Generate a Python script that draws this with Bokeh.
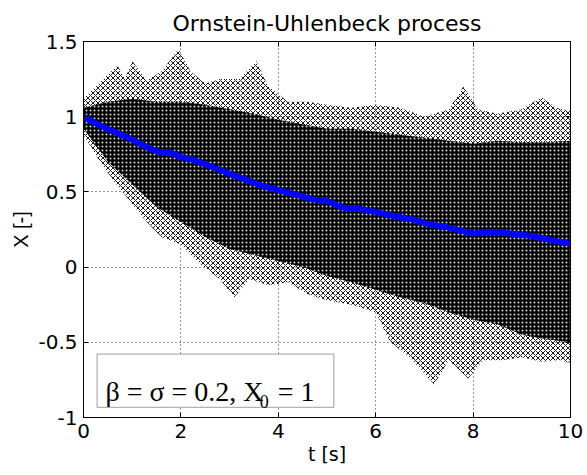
from bokeh.plotting import figure
from bokeh.models import Range1d, FixedTicker, LinearAxis, Label, BoxAnnotation
from bokeh.embed import file_html
from bokeh.resources import INLINE

# ---- data ----
# blue line: mean of the simulated paths
mean_t = [0.0, 0.35, 0.62, 0.97, 1.31, 1.58, 1.79, 1.99, 2.27, 2.68, 3.02, 3.36, 3.67, 4.01, 4.36,
          4.70, 5.04, 5.32, 5.73, 6.07, 6.41, 6.76, 7.03, 7.44, 7.99, 8.40, 8.81, 9.22, 9.63, 10.0]
mean_x = [1.0, 0.94, 0.902, 0.851, 0.795, 0.762, 0.762, 0.733, 0.711, 0.662, 0.618, 0.578, 0.54, 0.511, 0.484,
          0.451, 0.436, 0.396, 0.384, 0.362, 0.336, 0.318, 0.289, 0.267, 0.224, 0.235, 0.222, 0.207, 0.178, 0.156]

# outer extent of the sample paths (sparse region)
outer_up_t = [0.0, 0.25, 0.5, 0.7, 0.85, 1.0, 1.3, 1.6, 1.95, 2.2, 2.5, 2.8, 3.2, 3.55, 3.8, 4.2, 4.6,
              5.0, 5.5, 6.0, 6.5, 7.0, 7.5, 7.8, 8.1, 8.5, 9.0, 9.4, 9.7, 10.0]
outer_up_x = [1.12, 1.2, 1.28, 1.34, 1.25, 1.37, 1.24, 1.3, 1.45, 1.3, 1.22, 1.25, 1.25, 1.37, 1.2, 1.1, 1.1,
              1.08, 1.06, 1.08, 1.06, 1.0, 1.05, 1.2, 1.05, 1.02, 1.05, 1.13, 1.06, 1.04]
outer_lo_t = [0.0, 0.3, 0.6, 1.0, 1.3, 1.6, 2.0, 2.4, 2.8, 3.1, 3.4, 3.8, 4.2, 4.6, 5.0, 5.5, 6.0, 6.3,
              6.7, 7.2, 7.5, 7.9, 8.2, 8.6, 9.0, 9.4, 9.8, 10.0]
outer_lo_x = [0.88, 0.72, 0.58, 0.42, 0.3, 0.2, 0.15, 0.02, -0.08, -0.2, -0.08, -0.12, -0.1, -0.18, -0.22,
              -0.25, -0.3, -0.5, -0.6, -0.78, -0.62, -0.74, -0.62, -0.62, -0.6, -0.63, -0.62, -0.64]

# dense core of the sample paths
core_t = [0.0, 0.5, 1.0, 1.5, 2.0, 2.5, 3.0, 3.5, 4.0, 4.5, 5.0, 5.5, 6.0, 6.5, 7.0, 7.5, 8.0, 8.5, 9.0, 9.5, 10.0]
core_hi = [1.06, 1.1, 1.12, 1.1, 1.1, 1.08, 1.05, 1.02, 0.98, 0.95, 0.92, 0.92, 0.9, 0.88, 0.86, 0.84, 0.82,
           0.84, 0.83, 0.83, 0.84]
core_lo = [0.92, 0.7, 0.55, 0.4, 0.3, 0.2, 0.12, 0.08, 0.04, 0.0, -0.06, -0.1, -0.15, -0.2, -0.24, -0.3, -0.35,
           -0.38, -0.45, -0.48, -0.5]

x_ticks = [0, 2, 4, 6, 8, 10]
x_tick_labels = ["0", "2", "4", "6", "8", "10"]
y_ticks = [-1, -0.5, 0, 0.5, 1, 1.5]
y_tick_labels = ["-1", "-0.5", "0", "0.5", "1", "1.5"]

FONT = "DejaVu Sans"

p = figure(width=587, height=475, output_backend="svg", toolbar_location=None,
           x_range=Range1d(0, 10), y_range=Range1d(-1, 1.5),
           min_border_left=83, min_border_right=17, min_border_top=41, min_border_bottom=58,
           title="Ornstein-Uhlenbeck process")
p.background_fill_color = "white"
p.border_fill_color = "white"
p.outline_line_color = "black"
p.outline_line_width = 1

p.title.text_font = FONT
p.title.text_font_size = "22px"
p.title.text_font_style = "normal"
p.title.align = "center"
p.title.text_color = "black"
p.title.standoff = 12

# cloud of paths
outer_xs = outer_up_t + outer_lo_t[::-1]
outer_ys = outer_up_x + outer_lo_x[::-1]
p.patch(outer_xs, outer_ys, fill_color="white", fill_alpha=0.0, line_color=None,
        hatch_pattern="diagonal_cross", hatch_color="black", hatch_alpha=0.9,
        hatch_scale=5, hatch_weight=1)
p.varea(x=core_t, y1=core_lo, y2=core_hi, fill_color="black", fill_alpha=1.0,
        hatch_pattern="dot", hatch_color="white", hatch_alpha=0.85, hatch_scale=4, hatch_weight=2)

# mean line
p.line(mean_t, mean_x, line_color="#0000ff", line_width=6)

# axes styling
def style_axis(ax, ticks, labels, show_labels=True):
    ax.ticker = FixedTicker(ticks=ticks)
    if show_labels:
        ax.major_label_overrides = {t: l for t, l in zip(ticks, labels)}
    else:
        ax.major_label_overrides = {t: "" for t in ticks}
    ax.major_tick_in = 5
    ax.major_tick_out = 0
    ax.minor_tick_line_color = None
    ax.axis_line_color = "black"
    ax.major_tick_line_color = "black"
    ax.major_label_text_font = FONT
    ax.major_label_text_font_size = "20px" if show_labels else "0px"
    ax.major_label_text_color = "black"
    ax.axis_label_text_font = FONT
    ax.axis_label_text_font_size = "19px"
    ax.axis_label_text_font_style = "normal"
    ax.axis_label_text_color = "black"

style_axis(p.xaxis[0], x_ticks, x_tick_labels)
style_axis(p.yaxis[0], y_ticks, y_tick_labels)
p.xaxis[0].axis_label = "t [s]"
p.yaxis[0].axis_label = "X [-]"
p.yaxis[0].axis_label_text_font = "Liberation Sans"
p.yaxis[0].axis_label_text_font_size = "20px"
p.xaxis[0].major_label_standoff = 6
p.yaxis[0].major_label_standoff = 6
p.xaxis[0].axis_label_standoff = 2
p.yaxis[0].axis_label_standoff = 3

top_ax = LinearAxis()
right_ax = LinearAxis()
style_axis(top_ax, x_ticks, x_tick_labels, show_labels=False)
style_axis(right_ax, y_ticks, y_tick_labels, show_labels=False)
top_ax.major_label_standoff = 0
right_ax.major_label_standoff = 0
p.add_layout(top_ax, "above")
p.add_layout(right_ax, "right")

# grid
p.xgrid.ticker = FixedTicker(ticks=x_ticks)
p.ygrid.ticker = FixedTicker(ticks=y_ticks)
for g in (p.xgrid, p.ygrid):
    g.grid_line_color = "black"
    g.grid_line_alpha = 0.8
    g.grid_line_dash = "1 3"
    g.grid_line_width = 1

# annotation box
box = BoxAnnotation(left=0.28, right=5.14, bottom=-0.933, top=-0.578,
                    fill_color="white", fill_alpha=1.0, line_color="black", line_width=1.3)
p.add_layout(box)
SERIF = "Liberation Serif"
p.add_layout(Label(x=0.45, y=-0.827, text="β = σ = 0.2, X", text_font=SERIF,
                   text_font_size="28px", text_color="black", text_baseline="alphabetic"))
p.add_layout(Label(x=3.62, y=-0.893, text="0", text_font=SERIF,
                   text_font_size="18px", text_color="black", text_baseline="alphabetic"))
p.add_layout(Label(x=3.99, y=-0.827, text="= 1", text_font=SERIF,
                   text_font_size="28px", text_color="black", text_baseline="alphabetic"))

open("out.html", "w").write(file_html(p, INLINE))
